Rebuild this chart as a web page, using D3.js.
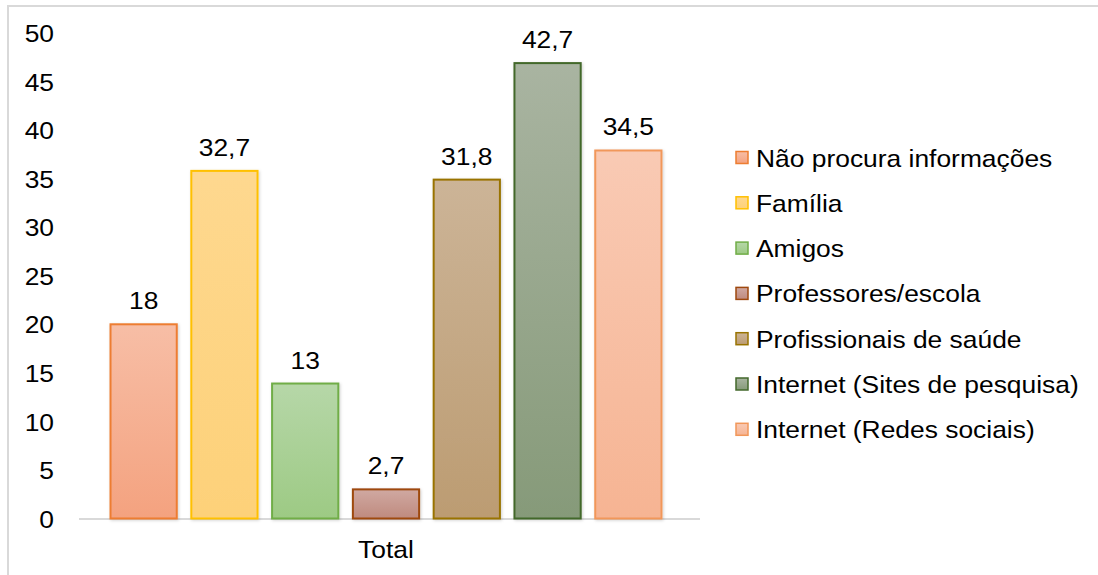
<!DOCTYPE html>
<html>
<head>
<meta charset="utf-8">
<script src="https://cdn.jsdelivr.net/npm/d3@7"></script>
<style>
  html, body { margin: 0; padding: 0; background: #fff; }
  svg { display: block; font-family: "Liberation Sans", Arial, sans-serif; }
</style>
</head>
<body>
<svg id="chart" width="1098" height="575"></svg>
<script>
// ---- data ----
const categories = [
  "Não procura informações",
  "Família",
  "Amigos",
  "Professores/escola",
  "Profissionais de saúde",
  "Internet (Sites de pesquisa)",
  "Internet (Redes sociais)"
];
const barValues = [20, 35.8, 13.9, 3.0, 34.9, 46.9, 37.9];   // bar heights as drawn
const valueLabels = ["18", "32,7", "13", "2,7", "31,8", "42,7", "34,5"];
const yTicks = [0, 5, 10, 15, 20, 25, 30, 35, 40, 45, 50];
const xCategory = "Total";

// ---- styles ----
const fillTop    = ["#F7BEA6", "#FED88F", "#B6D7A8", "#D0A9A2", "#CCB497", "#A9B4A1", "#F9CAB4"];
const fillBottom = ["#F4A27F", "#FDD179", "#9DCA84", "#BF8A7E", "#BC9C72", "#869A79", "#F6B493"];
const strokes    = ["#ED7D31", "#FFC000", "#70AD47", "#9E480E", "#997300", "#43682B", "#F1975A"];

const FS = 24, SX = 1.1;
const svg = d3.select("#chart");

// outer border (partial)
svg.append("path")
  .attr("d", "M8,580 L8,6 L1100,6")
  .attr("fill", "none").attr("stroke", "#D9D9D9").attr("stroke-width", 2);

const defs = svg.append("defs");
categories.forEach((c, i) => {
  const g = defs.append("linearGradient").attr("id", "grad" + i)
    .attr("x1", 0).attr("y1", 0).attr("x2", 0).attr("y2", 1);
  g.append("stop").attr("offset", "0%").attr("stop-color", fillTop[i]);
  g.append("stop").attr("offset", "100%").attr("stop-color", fillBottom[i]);
});
const f = defs.append("filter").attr("id", "shadow")
  .attr("x", "-20%").attr("y", "-20%").attr("width", "140%").attr("height", "140%");
f.append("feDropShadow").attr("dx", 1).attr("dy", 1).attr("stdDeviation", 1.5)
  .attr("flood-color", "#000").attr("flood-opacity", 0.18);

const y = d3.scaleLinear().domain([0, 50]).range([518.5, 33]);
const x = d3.scaleBand().domain(categories).range([79, 693])
  .paddingInner(0.18).paddingOuter(0.39);

function stretchedText(sel, px, py, txt, anchor) {
  sel.append("text")
    .attr("transform", `translate(${px},${py}) scale(${SX},1)`)
    .attr("text-anchor", anchor)
    .attr("font-size", FS)
    .attr("fill", "#000")
    .text(txt);
}

// y axis labels
const yAxis = d3.axisLeft(y).tickValues(yTicks).tickSize(0).tickFormat(d3.format("d"));
const yg = svg.append("g").attr("transform", "translate(54,0)").call(yAxis);
yg.select(".domain").remove();
yg.selectAll(".tick text")
  .attr("x", 0).attr("dy", "0.36em")
  .attr("font-size", FS).attr("font-family", "Liberation Sans, Arial, sans-serif")
  .attr("fill", "#000")
  .attr("transform", `scale(${SX},1)`);

// baseline
svg.append("line")
  .attr("x1", 79).attr("x2", 700).attr("y1", y(0) + 0.5).attr("y2", y(0) + 0.5)
  .attr("stroke", "#D9D9D9").attr("stroke-width", 2);

// bars
svg.append("g").selectAll("rect").data(barValues).join("rect")
  .attr("x", (d, i) => x(categories[i]))
  .attr("y", d => y(d))
  .attr("width", x.bandwidth())
  .attr("height", d => y(0) - y(d))
  .attr("fill", (d, i) => `url(#grad${i})`)
  .attr("stroke", (d, i) => strokes[i])
  .attr("stroke-width", 2)
  .attr("filter", "url(#shadow)");

// value labels
const lg = svg.append("g");
barValues.forEach((v, i) => {
  stretchedText(lg, x(categories[i]) + x.bandwidth() / 2, y(v) - 15, valueLabels[i], "middle");
});

// x category label
stretchedText(svg, (79 + 693) / 2, 558, xCategory, "middle");

// legend
const legend = svg.append("g");
categories.forEach((c, i) => {
  const cy = 158 + i * 45.3;
  legend.append("rect")
    .attr("x", 736).attr("y", cy - 6.5).attr("width", 12).attr("height", 12)
    .attr("fill", `url(#grad${i})`).attr("stroke", strokes[i]).attr("stroke-width", 1.5);
  stretchedText(legend, 756, cy + 8.5, c, "start");
});
</script>
</body>
</html>
